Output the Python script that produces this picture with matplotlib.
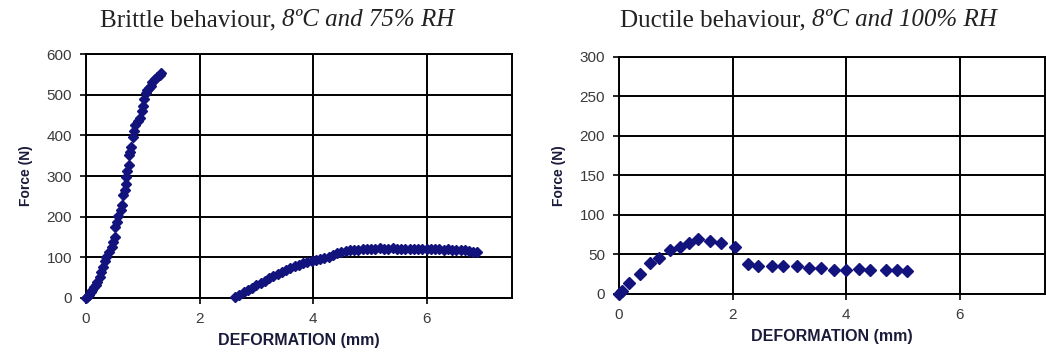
import numpy as np
import matplotlib.pyplot as plt

# brittle specimen, first (loading) branch
brittle_x1 = [0.00, 0.02, 0.05, 0.08, 0.11, 0.14, 0.17, 0.20, 0.24, 0.27, 0.30, 0.33,
              0.36, 0.40, 0.45, 0.48, 0.51, 0.51, 0.54, 0.57, 0.61, 0.63, 0.65, 0.68,
              0.70, 0.71, 0.73, 0.75, 0.76, 0.78, 0.80, 0.83, 0.85, 0.87, 0.91, 0.95,
              0.98, 1.00, 1.03, 1.05, 1.07, 1.11, 1.15, 1.17, 1.21, 1.25, 1.30, 1.33]
brittle_y1 = [0, 3, 8, 14, 20, 26, 32, 40, 52, 64, 77, 90,
              102, 114, 126, 138, 150, 175, 188, 202, 216, 229, 253, 265,
              280, 298, 312, 328, 351, 360, 372, 396, 410, 425, 435, 442,
              460, 472, 490, 505, 512, 518, 522, 532, 540, 545, 550, 553]

# brittle specimen, second branch
brittle_x2 = [2.62, 2.70, 2.78, 2.85, 2.92, 3.00, 3.08, 3.15, 3.23, 3.30, 3.38, 3.45,
              3.52, 3.60, 3.68, 3.75, 3.83, 3.90, 3.98, 4.05, 4.12, 4.20, 4.28, 4.35,
              4.42, 4.50, 4.58, 4.65, 4.72, 4.80, 4.88, 4.95, 5.02, 5.10, 5.18, 5.25,
              5.32, 5.40, 5.48, 5.55, 5.62, 5.70, 5.78, 5.85, 5.92, 6.00, 6.08, 6.15,
              6.22, 6.30, 6.38, 6.45, 6.52, 6.60, 6.68, 6.75, 6.82, 6.88]
brittle_y2 = [3, 8, 14, 19, 25, 31, 37, 43, 48, 53, 59, 64,
              69, 74, 78, 82, 86, 89, 91, 94, 96, 98, 101, 105,
              110, 114, 116, 117, 118, 119, 120, 121, 121, 121, 122, 121,
              121, 122, 121, 121, 121, 120, 121, 120, 120, 121, 120, 120,
              120, 119, 120, 119, 118, 119, 117, 116, 114, 112]

# ductile specimen
ductile_x = [0.00, 0.05, 0.18, 0.37, 0.55, 0.71, 0.89, 1.08, 1.23, 1.40, 1.60, 1.80,
             2.04, 2.28, 2.45, 2.69, 2.89, 3.13, 3.35, 3.55, 3.78, 4.00, 4.22, 4.42,
             4.70, 4.90, 5.08]
ductile_y = [0, 4, 14, 25, 39, 46, 56, 59, 65, 69, 67, 65,
             59, 38, 36, 36, 36, 36, 33, 33, 31, 31, 32, 31,
             31, 31, 29]

titles = [('Brittle behaviour, ', '8ºC and 75% RH'),
          ('Ductile behaviour, ', '8ºC and 100% RH')]

mcol = '#13137e'
sans = ['Liberation Sans Narrow', 'Liberation Sans', 'DejaVu Sans']
serif = ['Liberation Serif', 'DejaVu Serif']

fig = plt.figure(figsize=(10.46, 3.58), dpi=100)
ax1 = fig.add_axes([0.0822, 0.1676, 0.407, 0.681])
ax2 = fig.add_axes([0.5918, 0.1788, 0.407, 0.662])

def style(ax, ymax, ystep):
    ax.set_xlim(0, 7.5)
    ax.set_ylim(0, ymax)
    ax.set_xticks([0, 2, 4, 6])
    ax.set_yticks(np.arange(0, ymax + 1, ystep))
    ax.grid(True, color='black', linewidth=1.4)
    ax.set_axisbelow(True)
    for s in ax.spines.values():
        s.set_linewidth(1.4)
    ax.tick_params(length=4, width=1.2, pad=6, labelsize=11, labelcolor='#3a3a3a')
    for lab in ax.get_xticklabels() + ax.get_yticklabels():
        lab.set_family(sans)
    ax.set_xlabel('DEFORMATION (mm)', family=sans, fontweight='bold',
                  fontsize=11.5, color='#1a1a3a', labelpad=5)
    ax.set_ylabel('Force (N)', family=sans, fontweight='bold',
                  fontsize=10, color='#1a1a3a', labelpad=10)

style(ax1, 600, 100)
style(ax2, 300, 50)

ax1.plot(brittle_x1, brittle_y1, 'D', color=mcol, markersize=5.5, clip_on=False, zorder=3)
ax1.plot(brittle_x2, brittle_y2, 'D', color=mcol, markersize=5.5, clip_on=False, zorder=3)
ax2.plot(ductile_x, ductile_y, 'D', color=mcol, markersize=6, clip_on=False, zorder=3)

# titles: upright part followed by italic part
fig.canvas.draw()
r = fig.canvas.get_renderer()
for (plain, ital), x0 in zip(titles, [100, 620]):
    t = fig.text(x0 / 1046, 0.944, plain, family=serif, fontsize=18, color='#222222',
                 ha='left', va='center')
    ext = t.get_window_extent(r)
    fig.text(ext.x1 / 1046, 0.944, ital, family=serif, fontsize=18, style='italic',
             color='#222222', ha='left', va='center')

fig.savefig('out.png', dpi=100)
